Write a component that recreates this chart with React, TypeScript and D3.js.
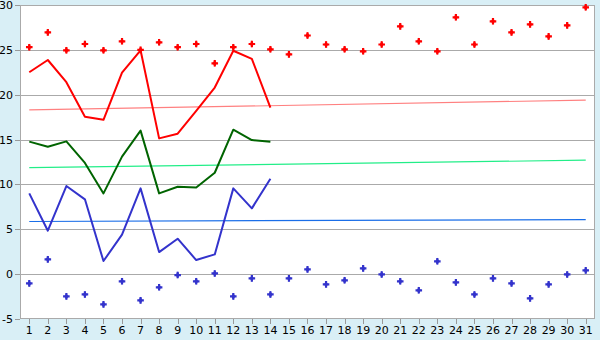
import React from "react";
import * as d3 from "d3";

const days: number[] = d3.range(1, 32);
const highPoints: number[] = [25.3, 26.95, 24.95, 25.65, 24.95, 25.95, 25.0, 25.84, 25.3, 25.65, 23.5, 25.3, 25.65, 25.06, 24.5, 26.6, 25.6, 25.06, 24.84, 25.6, 27.62, 25.95, 24.84, 28.63, 25.6, 28.18, 26.95, 27.84, 26.5, 27.73, 29.74];
const lowPoints: number[] = [-1.03, 1.65, -2.48, -2.26, -3.37, -0.8, -2.92, -1.47, -0.1, -0.8, 0.08, -2.48, -0.47, -2.26, -0.47, 0.53, -1.14, -0.69, 0.64, -0.03, -0.8, -1.8, 1.43, -0.92, -2.26, -0.47, -1.03, -2.7, -1.14, -0.03, 0.42];
const maxLine: number[] = [22.5, 23.87, 21.4, 17.55, 17.2, 22.45, 24.95, 15.13, 15.65, 18.2, 20.8, 24.9, 24.0, 18.55];
const meanLine: number[] = [14.77, 14.2, 14.8, 12.4, 9.0, 13.1, 16.0, 9.0, 9.74, 9.65, 11.3, 16.1, 14.95, 14.77];
const minLine: number[] = [9.0, 4.84, 9.82, 8.34, 1.46, 4.4, 9.56, 2.46, 3.95, 1.57, 2.2, 9.56, 7.33, 10.64];
const trendDays: number[] = [1, 31];
const redTrend: number[] = [18.3, 19.4];
const greenTrend: number[] = [11.87, 12.7];
const blueTrend: number[] = [5.87, 6.08];
const yTicks: number[] = [-5, 0, 5, 10, 15, 20, 25, 30];

const W = 600, H = 340;
const left = 20, right = 595, top = 5, bottom = 319;

export default function App() {
  const x = d3.scaleBand<number>().domain(days).range([left, right]);
  const cx = (d: number) => (x(d) as number) + x.bandwidth() / 2;
  const y = d3.scaleLinear().domain([-5, 30]).range([bottom, top]);
  const line = d3.line<number>().x((_, i) => cx(i + 1)).y((v) => y(v));
  const tline = (vals: number[]) =>
    d3.line<number>().x((_, i) => cx(trendDays[i])).y((v) => y(v))(vals) as string;
  const cross = d3.symbol().type(d3.symbolCross).size(24)() as string;
  const diamond = d3.symbol().type(d3.symbolDiamond).size(14)() as string;
  const font = "'DejaVu Sans', Verdana, sans-serif";

  const marker = (key: string, d: number, v: number, color: string) => (
    <g key={key} transform={`translate(${cx(d)},${y(v)})`} fill={color}>
      <path d={cross} />
      <path d={diamond} />
    </g>
  );

  return (
    <svg width={W} height={H} style={{ position: "fixed", left: 0, top: 0 }} shapeRendering="crispEdges">
      <rect x={0} y={0} width={W} height={H} fill="#d9eff6" />
      <rect x={left} y={top} width={right - left} height={bottom - top} fill="#ffffff" />
      {yTicks.filter((t) => t > -5 && t < 30).map((t) => (
        <line key={t} x1={left} x2={right} y1={Math.round(y(t)) + 0.5} y2={Math.round(y(t)) + 0.5} stroke="#aaaaaa" />
      ))}
      {yTicks.map((t) => (
        <g key={"yt" + t}>
          <line x1={left - 5} x2={left} y1={Math.round(y(t)) + 0.5} y2={Math.round(y(t)) + 0.5} stroke="#999999" />
          <text x={left - 7} y={y(t) + 4} textAnchor="end" fontSize={11} fontFamily={font} fill="#000">
            {String(t)}
          </text>
        </g>
      ))}
      {days.map((d) => (
        <g key={"xt" + d}>
          <line x1={Math.round(cx(d)) + 0.5} x2={Math.round(cx(d)) + 0.5} y1={bottom} y2={bottom + 5} stroke="#999999" />
          <text x={cx(d)} y={bottom + 15} textAnchor="middle" fontSize={11} fontFamily={font} fill="#000">
            {d}
          </text>
        </g>
      ))}
      <rect x={left + 0.5} y={top + 0.5} width={right - left - 1} height={bottom - top - 1} fill="none" stroke="#aaaaaa" strokeWidth={1.5} />
      <g shapeRendering="auto">
        <path d={tline(redTrend)} fill="none" stroke="#ff8080" strokeWidth={1.2} />
        <path d={tline(greenTrend)} fill="none" stroke="#22ee88" strokeWidth={1.2} />
        <path d={tline(blueTrend)} fill="none" stroke="#1a6ee8" strokeWidth={1.2} />
        <path d={line(maxLine) as string} fill="none" stroke="#ff0000" strokeWidth={2} strokeLinejoin="round" />
        <path d={line(meanLine) as string} fill="none" stroke="#006400" strokeWidth={2} strokeLinejoin="round" />
        <path d={line(minLine) as string} fill="none" stroke="#3333cc" strokeWidth={2} strokeLinejoin="round" />
        {highPoints.map((v, i) => marker("h" + i, i + 1, v, "#ff0000"))}
        {lowPoints.map((v, i) => marker("l" + i, i + 1, v, "#3333cc"))}
      </g>
    </svg>
  );
}
